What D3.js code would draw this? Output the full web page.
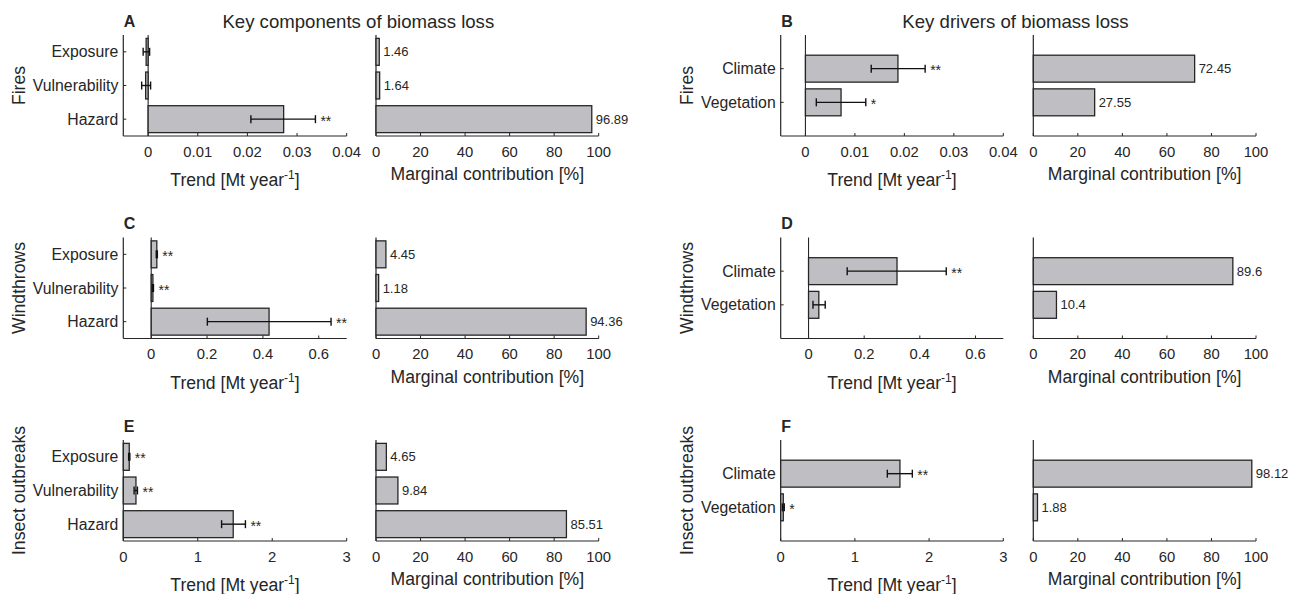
<!DOCTYPE html>
<html>
<head>
<meta charset="utf-8">
<script src="https://cdn.jsdelivr.net/npm/d3@7"></script>
<style>
  html, body { margin: 0; padding: 0; background: #fff; }
  svg text { font-family: "Liberation Sans", Arial, Helvetica, sans-serif; fill: #262626; }
</style>
</head>
<body>
<svg id="fig" width="1295" height="594"></svg>
<script>
// Categories
const components = ["Exposure", "Vulnerability", "Hazard"];
const drivers = ["Climate", "Vegetation"];
const hazards = ["Fires", "Windthrows", "Insect outbreaks"];
const panelLetters = ["A", "B", "C", "D", "E", "F"];
const columnTitles = ["Key components of biomass loss", "Key drivers of biomass loss"];

// Trend axis ranges and tick values per hazard
const fireTrendDomain = [-0.005, 0.04];
const fireTrendTicks = [0, 0.01, 0.02, 0.03, 0.04];
const windTrendDomain = [-0.1, 0.7];
const windTrendTicks = [0, 0.2, 0.4, 0.6];
const insectTrendDomain = [0, 3];
const insectTrendTicks = [0, 1, 2, 3];
const shareTicks = [0, 20, 40, 60, 80, 100];

// Fires: components
const fireCompTrend = [-0.0004, -0.0005, 0.0273];
const fireCompLo = [-0.0010, -0.0013, 0.0207];
const fireCompHi = [0.0003, 0.0005, 0.0337];
const fireCompSig = ["", "", "**"];
const fireCompShare = [1.46, 1.64, 96.89];

// Windthrows: components
const windCompTrend = [0.020, 0.006, 0.422];
const windCompLo = [0.018, 0.004, 0.201];
const windCompHi = [0.022, 0.008, 0.644];
const windCompSig = ["**", "**", "**"];
const windCompShare = [4.45, 1.18, 94.36];

// Insect outbreaks: components
const insectCompTrend = [0.080, 0.170, 1.476];
const insectCompLo = [0.072, 0.145, 1.320];
const insectCompHi = [0.088, 0.190, 1.640];
const insectCompSig = ["**", "**", "**"];
const insectCompShare = [4.65, 9.84, 85.51];

// Fires: drivers
const fireDrvTrend = [0.0187, 0.0072];
const fireDrvLo = [0.0133, 0.0022];
const fireDrvHi = [0.0242, 0.0122];
const fireDrvSig = ["**", "*"];
const fireDrvShare = [72.45, 27.55];

// Windthrows: drivers
const windDrvTrend = [0.318, 0.037];
const windDrvLo = [0.139, 0.016];
const windDrvHi = [0.495, 0.060];
const windDrvSig = ["**", ""];
const windDrvShare = [89.6, 10.4];

// Insect outbreaks: drivers
const insectDrvTrend = [1.607, 0.035];
const insectDrvLo = [1.437, 0.022];
const insectDrvHi = [1.774, 0.048];
const insectDrvSig = ["**", "*"];
const insectDrvShare = [98.12, 1.88];

// Panel definitions built from the arrays above
const panels = [
  { letter: 0, row: 0, col: 0, cats: components, trend: fireCompTrend, lo: fireCompLo, hi: fireCompHi, sig: fireCompSig, share: fireCompShare, dom: fireTrendDomain, ticks: fireTrendTicks },
  { letter: 1, row: 0, col: 1, cats: drivers, trend: fireDrvTrend, lo: fireDrvLo, hi: fireDrvHi, sig: fireDrvSig, share: fireDrvShare, dom: fireTrendDomain, ticks: fireTrendTicks },
  { letter: 2, row: 1, col: 0, cats: components, trend: windCompTrend, lo: windCompLo, hi: windCompHi, sig: windCompSig, share: windCompShare, dom: windTrendDomain, ticks: windTrendTicks },
  { letter: 3, row: 1, col: 1, cats: drivers, trend: windDrvTrend, lo: windDrvLo, hi: windDrvHi, sig: windDrvSig, share: windDrvShare, dom: windTrendDomain, ticks: windTrendTicks },
  { letter: 4, row: 2, col: 0, cats: components, trend: insectCompTrend, lo: insectCompLo, hi: insectCompHi, sig: insectCompSig, share: insectCompShare, dom: insectTrendDomain, ticks: insectTrendTicks },
  { letter: 5, row: 2, col: 1, cats: drivers, trend: insectDrvTrend, lo: insectDrvLo, hi: insectDrvHi, sig: insectDrvSig, share: insectDrvShare, dom: insectTrendDomain, ticks: insectTrendTicks }
];

// Layout
const ink = "#262626";
const barFill = "#bfbfc3";
const rowTop = [35, 237.5, 440];
const plotH = 101;
const trendX = [[123.3, 346.7], [780.7, 1003.3]];
const shareX = [[376, 598.7], [1033.3, 1256]];
const rowLabelX = [25, 692.5];
const titleX = [358.3, 1015.5];

const svg = d3.select("#fig");

const fmt = v => (v === 0 ? "0" : String(+v.toFixed(4)));

function drawAxes(g, x, y, ticks, fmtTick, yTickVals, yLabels, top, bottom) {
  const [x0, x1] = x.range();
  // bottom and left axis lines with inward ticks
  g.append("line").attr("x1", x0).attr("x2", x1).attr("y1", bottom).attr("y2", bottom)
    .attr("stroke", ink).attr("stroke-width", 1.2);
  g.append("line").attr("x1", x0).attr("x2", x0).attr("y1", top).attr("y2", bottom)
    .attr("stroke", ink).attr("stroke-width", 1.2);
  ticks.forEach(t => {
    g.append("line").attr("x1", x(t)).attr("x2", x(t)).attr("y1", bottom).attr("y2", bottom - 3)
      .attr("stroke", ink).attr("stroke-width", 1);
    g.append("text").attr("x", x(t)).attr("y", bottom + 20.5).attr("text-anchor", "middle")
      .attr("font-size", 14.8).text(fmtTick(t));
  });
  yTickVals.forEach((v, i) => {
    g.append("line").attr("x1", x0).attr("x2", x0 + 3).attr("y1", y(v)).attr("y2", y(v))
      .attr("stroke", ink).attr("stroke-width", 1);
    if (yLabels) {
      g.append("text").attr("x", x0 - 5).attr("y", y(v)).attr("dy", "0.35em")
        .attr("text-anchor", "end").attr("font-size", 15.8).text(yLabels[i]);
    }
  });
}

panels.forEach(p => {
  const top = rowTop[p.row];
  const bottom = top + plotH;
  const n = p.cats.length;
  const y = d3.scaleLinear().domain(n === 3 ? [0.5, 3.5] : [0, 3]).range([top, bottom]);
  const pos = p.cats.map((c, i) => i + 1);
  const bw = y(0.8) - y(0);

  // ---- Trend subplot ----
  const x = d3.scaleLinear().domain(p.dom).range(trendX[p.col]);
  const g = svg.append("g");
  drawAxes(g, x, y, p.ticks, fmt, pos, p.cats, top, bottom);

  // zero reference line
  if (p.dom[0] < 0) {
    g.append("line").attr("x1", x(0)).attr("x2", x(0)).attr("y1", top).attr("y2", bottom)
      .attr("stroke", ink).attr("stroke-width", 1.1);
  }

  g.selectAll("rect.trend").data(p.trend).enter().append("rect")
    .attr("x", d => Math.min(x(0), x(d)))
    .attr("width", d => Math.abs(x(d) - x(0)))
    .attr("y", (d, i) => y(pos[i]) - bw / 2)
    .attr("height", bw)
    .attr("fill", barFill).attr("stroke", ink).attr("stroke-width", 1.3);

  // error bars and significance stars
  p.trend.forEach((d, i) => {
    const cy = y(pos[i]);
    const a = x(p.lo[i]), b = x(p.hi[i]);
    g.append("line").attr("x1", a).attr("x2", b).attr("y1", cy).attr("y2", cy)
      .attr("stroke", "#111").attr("stroke-width", 1.4);
    [a, b].forEach(xx => g.append("line").attr("x1", xx).attr("x2", xx)
      .attr("y1", cy - 4).attr("y2", cy + 4).attr("stroke", "#111").attr("stroke-width", 1.4));
    if (p.sig[i]) {
      const xs = Math.max(x(d), b, x(0)) + 5;
      g.append("text").attr("x", xs).attr("y", cy + 6.5).attr("font-size", 14).text(p.sig[i]);
    }
  });

  // row label and x label
  g.append("text")
    .attr("transform", `translate(${rowLabelX[p.col]},${top + plotH / 2}) rotate(-90)`)
    .attr("text-anchor", "middle").attr("font-size", 17.6).text(hazards[p.row]);

  const xl = g.append("text").attr("x", (trendX[p.col][0] + trendX[p.col][1]) / 2)
    .attr("y", bottom + 50).attr("text-anchor", "middle").attr("font-size", 17.6);
  xl.append("tspan").text("Trend [Mt year");
  xl.append("tspan").attr("font-size", 12).attr("dy", -7).text("-1");
  xl.append("tspan").attr("dy", 7).text("]");

  // panel letter
  g.append("text").attr("x", trendX[p.col][0] + 0.5).attr("y", top - 8.5)
    .attr("font-size", 16).attr("font-weight", "bold").attr("fill", "#111")
    .text(panelLetters[p.letter]);

  // ---- Marginal contribution subplot ----
  const xs = d3.scaleLinear().domain([0, 100]).range(shareX[p.col]);
  const h = svg.append("g");
  drawAxes(h, xs, y, shareTicks, v => String(v), pos, null, top, bottom);

  h.selectAll("rect.share").data(p.share).enter().append("rect")
    .attr("x", xs(0))
    .attr("width", d => xs(d) - xs(0))
    .attr("y", (d, i) => y(pos[i]) - bw / 2)
    .attr("height", bw)
    .attr("fill", barFill).attr("stroke", ink).attr("stroke-width", 1.3);

  h.selectAll("text.val").data(p.share).enter().append("text")
    .attr("x", d => xs(d) + 4)
    .attr("y", (d, i) => y(pos[i]))
    .attr("dy", "0.35em").attr("font-size", 13)
    .text(d => String(d));

  h.append("text").attr("x", (shareX[p.col][0] + shareX[p.col][1]) / 2)
    .attr("y", bottom + 44).attr("text-anchor", "middle").attr("font-size", 17.6)
    .text("Marginal contribution [%]");
});

// column titles
columnTitles.forEach((t, i) => {
  svg.append("text").attr("x", titleX[i]).attr("y", 27.5).attr("text-anchor", "middle")
    .attr("font-size", 18.6).text(t);
});
</script>
</body>
</html>
